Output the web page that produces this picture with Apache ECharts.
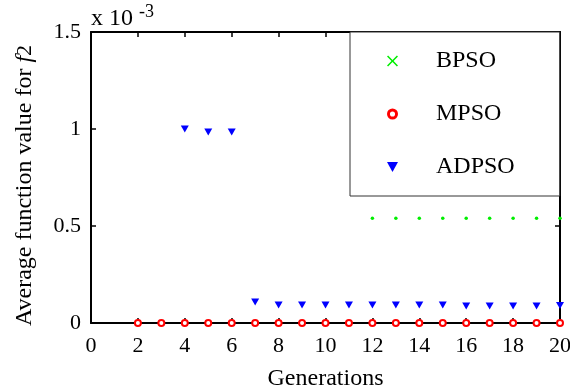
<!DOCTYPE html>
<html>
<head>
<meta charset="utf-8">
<script src="https://cdn.jsdelivr.net/npm/echarts@6/dist/echarts.min.js"></script>
<style>
  html, body { margin: 0; padding: 0; background: #fff; }
  #main { width: 570px; height: 392px; }
</style>
</head>
<body>
<div id="main"></div>
<script>
// values are in units of 1e-3 (the axis shows "x 10^-3")
const bpsoGen = [12, 13, 14, 15, 16, 17, 18, 19, 20];
const bpsoVal = [0.54, 0.54, 0.54, 0.54, 0.54, 0.54, 0.54, 0.54, 0.54];

const mpsoGen = [2, 3, 4, 5, 6, 7, 8, 9, 10, 11, 12, 13, 14, 15, 16, 17, 18, 19, 20];
const mpsoVal = [0, 0, 0, 0, 0, 0, 0, 0, 0, 0, 0, 0, 0, 0, 0, 0, 0, 0, 0];

const adpsoGen = [4, 5, 6, 7, 8, 9, 10, 11, 12, 13, 14, 15, 16, 17, 18, 19, 20];
const adpsoVal = [1.0, 0.985, 0.985, 0.108, 0.093, 0.093, 0.093, 0.093, 0.093, 0.093, 0.093, 0.093, 0.088, 0.088, 0.088, 0.088, 0.09];

const xTicks = [0, 2, 4, 6, 8, 10, 12, 14, 16, 18, 20];
const yTicks = [0, 0.5, 1, 1.5];

const pairs = (xs, ys) => xs.map((x, i) => [x, ys[i]]);
const font = 'Liberation Serif';

const chart = echarts.init(document.getElementById('main'));

const tickStyle = {show: true, inside: true, length: 5, lineStyle: {color: '#000', width: 1.5}};
const lineStyle = {show: true, onZero: false, lineStyle: {color: '#000', width: 2}};

chart.setOption({
  animation: false,
  grid: {left: 91, right: 10, top: 32, bottom: 69, outerBoundsMode: 'none', containLabel: false},
  xAxis: [{
    type: 'value',
    min: xTicks[0], max: xTicks[xTicks.length - 1], interval: 2,
    axisLine: lineStyle,
    axisTick: tickStyle,
    splitLine: {show: false},
    axisLabel: {fontFamily: font, fontSize: 22, color: '#000', margin: 12},
    name: 'Generations',
    nameLocation: 'middle',
    nameGap: 44,
    nameTextStyle: {fontFamily: font, fontSize: 24, color: '#000'}
  }, {
    type: 'value', position: 'top',
    min: xTicks[0], max: xTicks[xTicks.length - 1], interval: 2,
    axisLine: lineStyle, axisTick: tickStyle,
    axisLabel: {show: false}, splitLine: {show: false}
  }],
  yAxis: [{
    type: 'value',
    min: yTicks[0], max: yTicks[yTicks.length - 1], interval: 0.5,
    axisLine: lineStyle,
    axisTick: tickStyle,
    splitLine: {show: false},
    axisLabel: {fontFamily: font, fontSize: 22, color: '#000', margin: 10},
    name: 'Average function value for {i|f}{s|2}',
    nameLocation: 'middle',
    nameGap: 54,
    nameTextStyle: {
      fontFamily: font, fontSize: 24, color: '#000', padding: [0, 16, 0, 0],
      rich: {
        i: {fontFamily: font, fontSize: 24, fontStyle: 'italic', color: '#000'},
        s: {fontFamily: font, fontSize: 22, color: '#000'}
      }
    }
  }, {
    type: 'value', position: 'right',
    min: yTicks[0], max: yTicks[yTicks.length - 1], interval: 0.5,
    axisLine: lineStyle, axisTick: tickStyle,
    axisLabel: {show: false}, splitLine: {show: false}
  }],
  graphic: [{
    type: 'text', left: 91, top: 3,
    style: {
      text: '{a|x 10 }{b|-3}',
      rich: {
        a: {fontFamily: font, fontSize: 24, color: '#000', lineHeight: 28, verticalAlign: 'bottom'},
        b: {fontFamily: font, fontSize: 18, color: '#000', lineHeight: 18, verticalAlign: 'top'}
      }
    }
  }],
  legend: {
    orient: 'vertical',
    left: 350, top: 32,
    padding: [13, 45, 13, 37],
    backgroundColor: '#fff',
    borderColor: '#333',
    borderWidth: 1,
    itemWidth: 11, itemHeight: 11,
    itemGap: 21,
    textStyle: {fontFamily: font, fontSize: 24, color: '#000', lineHeight: 24, padding: [8, 0, 0, 33]},
    data: [
      {name: 'BPSO', icon: 'path://M1,0L5,4L9,0L10,1L6,5L10,9L9,10L5,6L1,10L0,9L4,5L0,1Z', itemStyle: {color: '#00ee00', opacity: 1}},
      {name: 'MPSO', icon: 'path://M6,0A6,6,0,1,1,6,12A6,6,0,1,1,6,0ZM6,3.2A2.8,2.8,0,1,0,6,8.8A2.8,2.8,0,1,0,6,3.2Z', itemStyle: {color: '#ff0000', borderWidth: 0, opacity: 1}},
      {name: 'ADPSO', icon: 'path://M0,0L10,0L5,9Z', itemStyle: {color: '#0000ff', opacity: 1}}
    ],
    z: 10
  },
  series: [{
    name: 'BPSO', type: 'scatter', clip: false,
    data: pairs(bpsoGen, bpsoVal),
    symbol: 'circle', symbolSize: 3.5,
    itemStyle: {color: '#00ee00', opacity: 1}
  }, {
    name: 'MPSO', type: 'scatter', clip: false,
    data: pairs(mpsoGen, mpsoVal),
    symbol: 'emptyCircle', symbolSize: 6,
    itemStyle: {color: '#ff0000', borderColor: '#ff0000', borderWidth: 2, opacity: 1}
  }, {
    name: 'ADPSO', type: 'scatter', clip: false,
    data: pairs(adpsoGen, adpsoVal),
    symbol: 'triangle', symbolRotate: 180, symbolSize: [8, 7],
    itemStyle: {color: '#0000ff', opacity: 1}
  }]
});
</script>
</body>
</html>
